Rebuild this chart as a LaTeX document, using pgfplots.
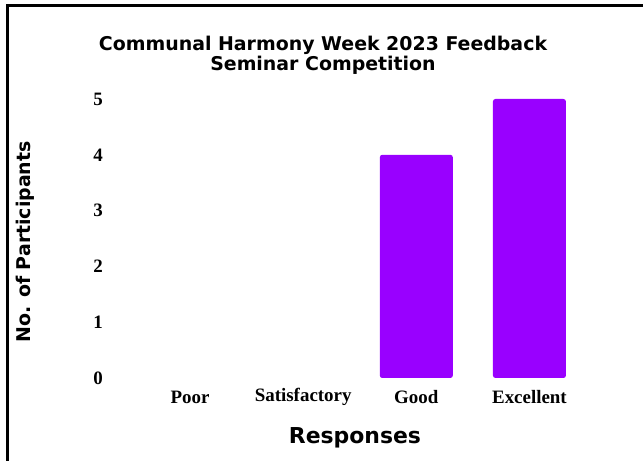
\documentclass[border=0pt]{standalone}
\usepackage{fontspec}
\setmainfont{Liberation Serif}
\newfontfamily\headfont{DejaVu Sans}
\usepackage{pgfplots}
\pgfplotsset{compat=1.18}
\definecolor{barpurple}{HTML}{9900FF}

\begin{document}
\begin{tikzpicture}[x=1bp,y=1bp]
  \useasboundingbox (0,0) rectangle (643,461);
  % frame (left and top only)
  \draw[line width=2.2bp] (7.5,0) -- (7.5,455.5) -- (643,455.5);

  \begin{axis}[
    at={(133.5bp,83bp)}, anchor=south west,
    scale only axis,
    width=452.5bp, height=279bp,
    xmin=-0.5, xmax=3.5,
    ymin=0, ymax=5,
    xtick={0,1,2,3},
    xticklabels={Poor,Satisfactory,Good,Excellent},
    ytick={0,1,2,3,4,5},
    /pgf/number format/assume math mode=true,
    tick style={draw=none},
    ticklabel style={font=\fontsize{19}{22}\selectfont\bfseries},
    xticklabel style={anchor=center, yshift=-19bp},
    yticklabel style={anchor=center, xshift=-35.5bp},
    axis line style={draw=none},
    clip=false,
  ]
    % zero-height bars are left out of the drawing, not the data
    \addplot[ybar, bar width=73bp, bar shift=0pt, fill=barpurple, draw=none,
             rounded corners=2.5bp, y filter/.expression={y==0 ? nan : y},
             unbounded coords=discard]
      coordinates {(0,0) (1,0) (2,4) (3,5)};
  \end{axis}

  \node[font=\headfont\fontsize{19}{19}\selectfont\bfseries, align=center,
        inner sep=0pt] at (323,406) {Communal Harmony Week 2023 Feedback\\[1bp]Seminar Competition};
  \node[font=\headfont\fontsize{22}{24}\selectfont\bfseries] at (355,23) {Responses};
  \node[font=\headfont\fontsize{19}{21}\selectfont\bfseries, rotate=90] at (25,219) {No. of Participants};
\end{tikzpicture}
\end{document}
